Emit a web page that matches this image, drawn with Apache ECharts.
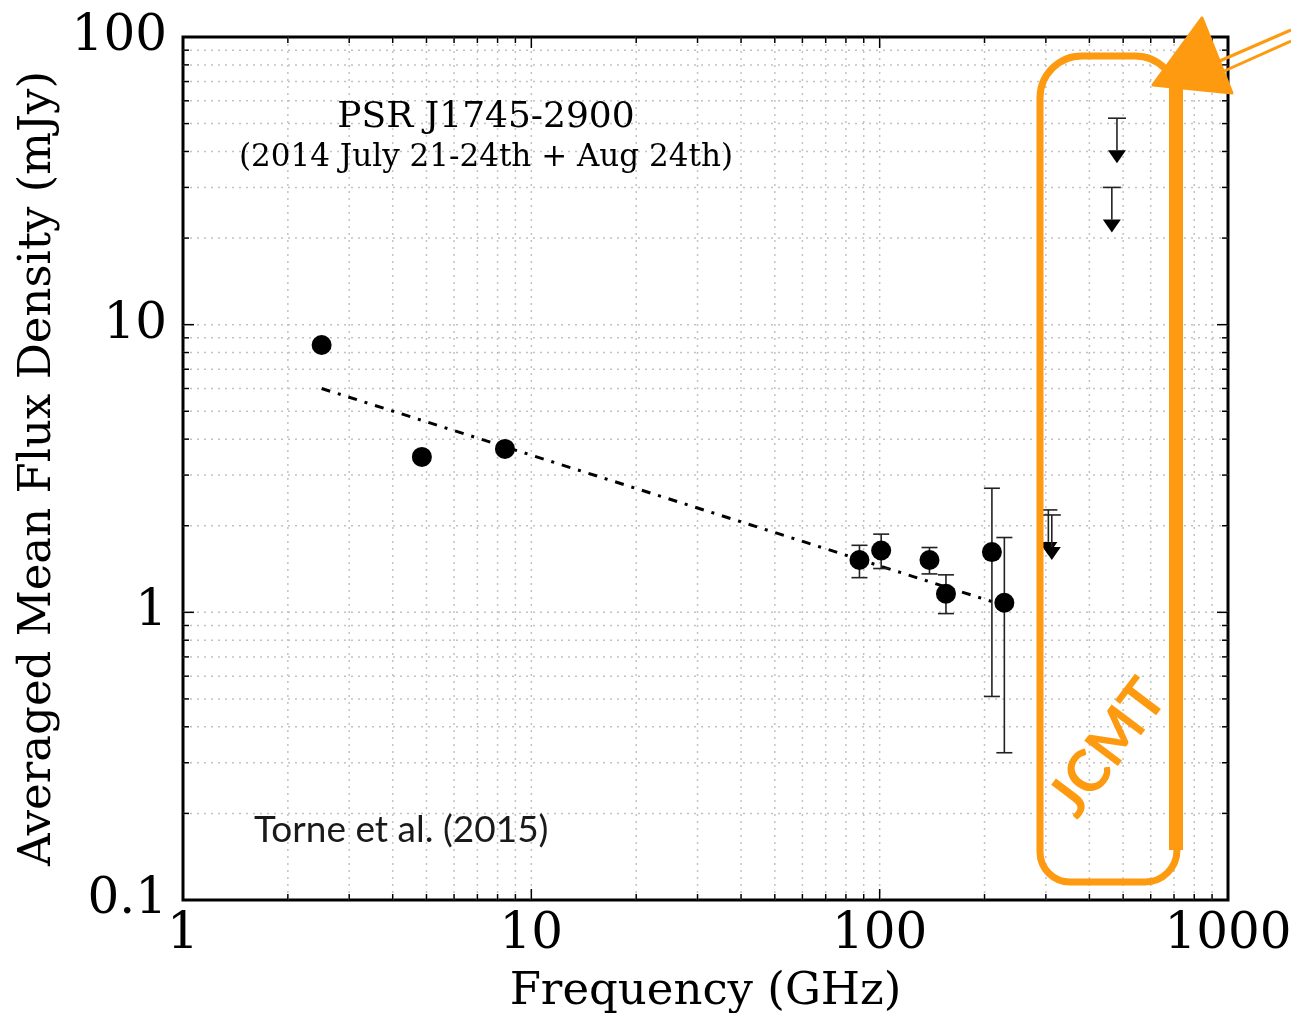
<!DOCTYPE html>
<html>
<head>
<meta charset="utf-8">
<script src="https://cdn.jsdelivr.net/npm/echarts@6/dist/echarts.min.js"></script>
<style>
  html, body { margin: 0; padding: 0; background: #fff; }
  #chart { width: 1291px; height: 1013px; }
</style>
</head>
<body>
<div id="chart"></div>
<script>
// measured points (GHz, mJy)
var freqGHz = [2.5, 4.85, 8.4, 87.5, 101, 139, 155, 210, 228];
var fluxMJy = [8.5, 3.47, 3.7, 1.52, 1.64, 1.52, 1.16, 1.62, 1.08];
var errLow  = [null, null, null, 1.32, 1.42, 1.36, 0.99, 0.51, 0.325];
var errHigh = [null, null, null, 1.71, 1.87, 1.68, 1.35, 2.70, 1.82];

// upper limits
var limFreq = [305, 312, 464, 480];
var limFlux = [2.27, 2.18, 30.0, 52.2];

// power-law fit (dash-dot)
var fitFreq = [2.5, 210];
var fitFlux = [6.0, 1.09];

// axis ticks
var xTickLabels = ["1", "10", "100", "1000"];
var yTickLabels = ["0.1", "1", "10", "100"];
var xDecades = [1, 10, 100, 1000];
var yDecades = [0.1, 1, 10, 100];
var minorMult = [2, 3, 4, 5, 6, 7, 8, 9];

var SERIF = "DejaVu Serif";
var ORANGE = "#fd9a10";

// tick / grid items: [x, y, axis, major]
var tickData = [];
xDecades.forEach(function (d, i) {
    tickData.push([d, 1, 0, 1]);
    if (i < xDecades.length - 1) {
        minorMult.forEach(function (m) { tickData.push([d * m, 1, 0, 0]); });
    }
});
yDecades.forEach(function (d, i) {
    tickData.push([10, d, 1, 1]);
    if (i < yDecades.length - 1) {
        minorMult.forEach(function (m) { tickData.push([10, d * m, 1, 0]); });
    }
});

function renderTick(params, api) {
    var cs = params.coordSys;
    var axis = api.value(2);
    var len = api.value(3) ? 11 : 6;
    var grey = { stroke: "#c2c2c2", lineWidth: 1.5, lineDash: [2, 5] };
    var black = { stroke: "#000", lineWidth: 1.5 };
    var top = cs.y, bot = cs.y + cs.height, left = cs.x, right = cs.x + cs.width;
    var kids = [];
    if (axis === 0) {
        var px = api.coord([api.value(0), 1])[0];
        if (px > left + 2 && px < right - 2) {
            kids.push({ type: "line", shape: { x1: px, y1: top, x2: px, y2: bot }, style: grey });
        }
        kids.push({ type: "line", shape: { x1: px, y1: top, x2: px, y2: top + len }, style: black });
        kids.push({ type: "line", shape: { x1: px, y1: bot, x2: px, y2: bot - len }, style: black });
    } else {
        var py = api.coord([10, api.value(1)])[1];
        if (py > top + 2 && py < bot - 2) {
            kids.push({ type: "line", shape: { x1: left, y1: py, x2: right, y2: py }, style: grey });
        }
        kids.push({ type: "line", shape: { x1: left, y1: py, x2: left + len, y2: py }, style: black });
        kids.push({ type: "line", shape: { x1: right, y1: py, x2: right - len, y2: py }, style: black });
    }
    return { type: "group", children: kids };
}

function renderErr(params, api) {
    var lo = api.coord([api.value(0), api.value(1)]);
    var hi = api.coord([api.value(0), api.value(2)]);
    var w = 8;
    var st = { stroke: "#222", lineWidth: 1.6 };
    return {
        type: "group",
        children: [
            { type: "line", shape: { x1: lo[0], y1: lo[1], x2: hi[0], y2: hi[1] }, style: st },
            { type: "line", shape: { x1: lo[0] - w, y1: lo[1], x2: lo[0] + w, y2: lo[1] }, style: st },
            { type: "line", shape: { x1: hi[0] - w, y1: hi[1], x2: hi[0] + w, y2: hi[1] }, style: st }
        ]
    };
}

function renderLimit(params, api) {
    var p = api.coord([api.value(0), api.value(1)]);
    var w = 9, len = 45, th = 13;
    var st = { stroke: "#222", lineWidth: 1.6 };
    return {
        type: "group",
        children: [
            { type: "line", shape: { x1: p[0] - w, y1: p[1], x2: p[0] + w, y2: p[1] }, style: st },
            { type: "line", shape: { x1: p[0], y1: p[1], x2: p[0], y2: p[1] + len - th }, style: st },
            { type: "polygon", shape: { points: [[p[0] - w, p[1] + len - th], [p[0] + w, p[1] + len - th], [p[0], p[1] + len]] }, style: { fill: "#000" } }
        ]
    };
}

var chart = echarts.init(document.getElementById("chart"));

var option = {
    animation: false,
    backgroundColor: "#fff",
    grid: {
        left: 183, right: 63, top: 37, bottom: 113,
        outerBoundsMode: "none", containLabel: false,
        show: true, borderColor: "#000", borderWidth: 3, backgroundColor: "transparent"
    },
    xAxis: {
        type: "log", logBase: 10, min: 1, max: 1000,
        name: "Frequency (GHz)", nameLocation: "middle", nameGap: 70,
        nameTextStyle: { fontFamily: SERIF, fontSize: 45, color: "#000" },
        axisLine: { show: false }, axisTick: { show: false }, splitLine: { show: false },
        axisLabel: {
            margin: 10, fontFamily: SERIF, fontSize: 50, color: "#000",
            formatter: function (v) { return xTickLabels[xDecades.indexOf(v)] || ""; }
        }
    },
    yAxis: {
        type: "log", logBase: 10, min: 0.1, max: 100,
        name: "Averaged Mean Flux Density (mJy)", nameLocation: "middle", nameGap: 122,
        nameTextStyle: { fontFamily: SERIF, fontSize: 45, color: "#000" },
        axisLine: { show: false }, axisTick: { show: false }, splitLine: { show: false },
        axisLabel: {
            margin: 16, fontFamily: SERIF, fontSize: 50, color: "#000",
            formatter: function (v) {
                for (var i = 0; i < yDecades.length; i++) {
                    if (Math.abs(v - yDecades[i]) < yDecades[i] * 1e-6) { return yTickLabels[i]; }
                }
                return "";
            }
        }
    },
    series: [
        {
            name: "frame", type: "custom", renderItem: renderTick, z: 1, silent: true,
            encode: { x: 0, y: 1 }, data: tickData
        },
        {
            name: "fit", type: "line", z: 3, showSymbol: false, silent: true,
            lineStyle: { color: "#000", width: 3, type: [9, 8, 3, 8] },
            data: fitFreq.map(function (f, i) { return [f, fitFlux[i]]; })
        },
        {
            name: "errors", type: "custom", renderItem: renderErr, z: 4,
            encode: { x: 0, y: [1, 2] },
            data: freqGHz.map(function (f, i) { return [f, errLow[i], errHigh[i]]; })
                .filter(function (d) { return d[1] !== null; })
        },
        {
            name: "limits", type: "custom", renderItem: renderLimit, z: 4,
            encode: { x: 0, y: 1 },
            data: limFreq.map(function (f, i) { return [f, limFlux[i]]; })
        },
        {
            name: "flux", type: "scatter", z: 5, symbol: "circle", symbolSize: 20,
            itemStyle: { color: "#000", opacity: 1 },
            data: freqGHz.map(function (f, i) { return [f, fluxMJy[i]]; })
        }
    ],
    graphic: [
        {
            type: "text", x: 486, y: 118, z: 10,
            style: { text: "PSR J1745-2900", fontFamily: SERIF, fontSize: 36, fill: "#000",
                     textAlign: "center", textVerticalAlign: "middle" }
        },
        {
            type: "text", x: 486, y: 158, z: 10,
            style: { text: "(2014 July 21-24th + Aug 24th)", fontFamily: SERIF, fontSize: 31, fill: "#000",
                     textAlign: "center", textVerticalAlign: "middle" }
        },
        {
            type: "text", x: 254, y: 830, z: 10,
            style: { text: "Torne et al. (2015)", fontFamily: "Lato", fontSize: 37, fill: "#1a1a1a",
                     textAlign: "left", textVerticalAlign: "middle" }
        },
        // hand-drawn JCMT annotation
        {
            type: "rect", z: 20, silent: true,
            shape: { x: 1040, y: 56, width: 137, height: 826, r: [42, 42, 32, 30] },
            style: { fill: null, stroke: ORANGE, lineWidth: 7 }
        },
        {
            type: "line", z: 20, silent: true,
            shape: { x1: 1176, y1: 80, x2: 1176, y2: 850 },
            style: { stroke: ORANGE, lineWidth: 14 }
        },
        {
            type: "polygon", z: 21, silent: true,
            shape: { points: [[1202, 18], [1153, 85], [1232, 93]] },
            style: { fill: ORANGE, stroke: ORANGE, lineWidth: 3, lineJoin: "round" }
        },
        {
            type: "line", z: 21, silent: true,
            shape: { x1: 1215, y1: 63, x2: 1291, y2: 30 },
            style: { stroke: ORANGE, lineWidth: 3 }
        },
        {
            type: "line", z: 21, silent: true,
            shape: { x1: 1222, y1: 72, x2: 1291, y2: 41 },
            style: { stroke: ORANGE, lineWidth: 3 }
        },
        {
            type: "text", x: 1108, y: 748, rotation: 53 * Math.PI / 180, z: 21,
            style: { text: "JCMT", fontFamily: "Lato", fontSize: 58, fontWeight: "bold", fill: ORANGE,
                     textAlign: "center", textVerticalAlign: "middle" }
        }
    ]
};

chart.setOption(option);
</script>
</body>
</html>
